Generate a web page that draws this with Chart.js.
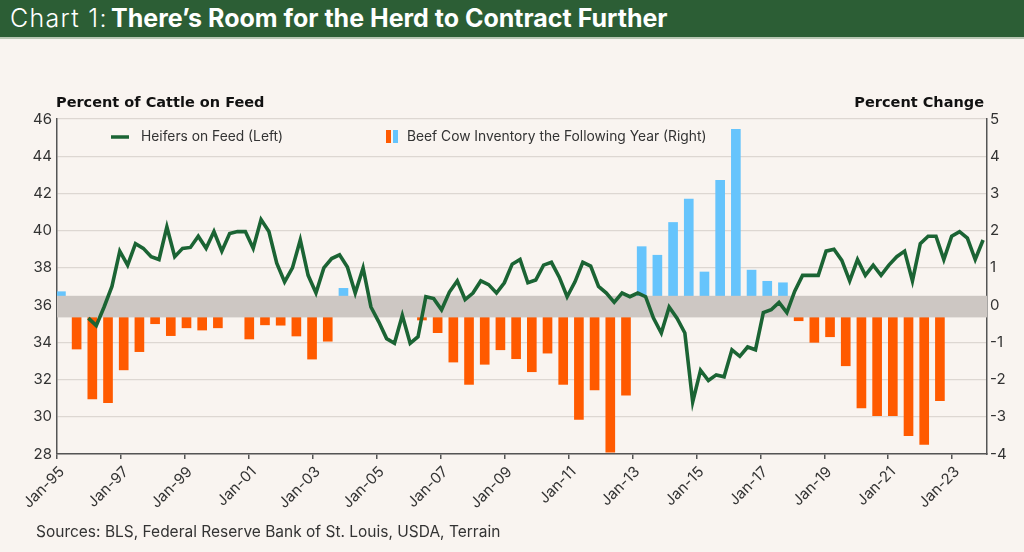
<!DOCTYPE html>
<html>
<head>
<meta charset="utf-8">
<title>Chart 1</title>
<script src="https://cdn.jsdelivr.net/npm/chart.js@4.4.1/dist/chart.umd.min.js"></script>
<style>
  html, body { margin: 0; padding: 0; }
  body {
    width: 1024px; height: 552px; position: relative; overflow: hidden;
    background: #f9f4f0;
    font-family: Inter, 'Liberation Sans', Arial, sans-serif;
  }
  #chart { position: absolute; left: 0; top: 0; }
  #banner {
    position: absolute; left: 0; top: 0; width: 1024px; height: 37px;
    box-sizing: content-box; padding-left: 10px;
    background: #2c5e35; color: #fff;
    border-bottom: 2px solid #b9c7b4;
    font-size: 25px; line-height: 37px;
    white-space: nowrap;
  }
  #banner .lead { font-weight: 300; display: inline-block; width: 101px; letter-spacing: 1.3px; }
  #banner b { font-weight: 700; }
  #sources { position: absolute; left: 36px; top: 522px; font-size: 15.5px; color: #333; }
</style>
</head>
<body>
<canvas id="chart" width="1024" height="552"></canvas>
<div id="banner"><span class="lead">Chart 1:</span><b>There’s Room for the Herd to Contract Further</b></div>
<div id="sources">Sources: BLS, Federal Reserve Bank of St. Louis, USDA, Terrain</div>
<script>
// x axis labels (every other January)
const xTickLabels = ['Jan-95', 'Jan-97', 'Jan-99', 'Jan-01', 'Jan-03', 'Jan-05', 'Jan-07', 'Jan-09',
  'Jan-11', 'Jan-13', 'Jan-15', 'Jan-17', 'Jan-19', 'Jan-21', 'Jan-23'];

// Heifers on feed, percent of cattle on feed (left axis), quarterly from early 1996
const heifersOnFeed = [
  35.3, 34.9, 35.9, 37.0, 38.9, 38.15, 39.3, 39.05, 38.6, 38.45,
  40.2, 38.6, 39.05, 39.1, 39.7, 39.05, 39.95, 38.9, 39.85, 39.95,
  39.95, 39.05, 40.6, 39.95, 38.25, 37.25, 38.0, 39.5, 37.6, 36.65,
  38.0, 38.5, 38.7, 38.05, 36.65, 38.0, 35.9, 35.1, 34.2, 33.95,
  35.45, 33.95, 34.3, 36.45, 36.35, 35.75, 36.7, 37.3, 36.3, 36.65,
  37.3, 37.1, 36.65, 37.2, 38.2, 38.45, 37.2, 37.35, 38.15, 38.3,
  37.5, 36.45, 37.25, 38.3, 38.1, 37.0, 36.65, 36.15, 36.65, 36.45,
  36.65, 36.45, 35.3, 34.5, 35.9, 35.3, 34.5, 30.8, 32.5, 31.95,
  32.25, 32.15, 33.6, 33.25, 33.75, 33.6, 35.6, 35.75, 36.15, 35.6,
  36.75, 37.6, 37.6, 37.6, 38.9, 39.0, 38.4, 37.3, 38.45, 37.6,
  38.15, 37.6, 38.15, 38.6, 38.9, 37.3, 39.3, 39.7, 39.7, 38.45,
  39.7, 39.95, 39.6, 38.45, 39.5
];

// Beef cow inventory the following year, percent change (right axis), half-yearly
const beefCowChange = [
  0.36, -1.18, -2.52, -2.62, -1.74, -1.25, -0.50, -0.82, -0.61, -0.67,
  -0.61, -0.2, -0.91, -0.53, -0.54, -0.83, -1.45, -0.97, 0.45, 0.1,
  -0.1, -0.2, -0.1, -0.40, -0.74, -1.53, -2.13, -1.59, -1.20, -1.44,
  -1.79, -1.29, -2.13, -3.07, -2.28, -3.95, -2.42, 1.57, 1.34, 2.22,
  2.85, 0.89, 3.35, 4.72, 0.94, 0.64, 0.60, -0.42, -1.00, -0.85,
  -1.63, -2.76, -2.97, -2.97, -3.51, -3.74, -2.57
];

// grey zero band on the right axis
const zeroBand = [-0.33, 0.25];

const GREEN = '#1b6434';
const ORANGE = '#ff5a00';
const BLUE = '#66c4fc';
const INK = '#333333';
const AXIS = '#555555';
const TICK_FONT = { family: "Inter, 'Liberation Sans', Arial, sans-serif", size: 15 };

// band drawn over the bars but under the line
const bandPlugin = {
  id: 'zeroBand',
  beforeDatasetDraw(chart, args) {
    if (args.index !== 0) return;
    const { ctx, chartArea, scales } = chart;
    const yTop = scales.yR.getPixelForValue(zeroBand[1]);
    const yBottom = scales.yR.getPixelForValue(zeroBand[0]);
    ctx.save();
    ctx.fillStyle = '#cdc7c3';
    ctx.fillRect(chartArea.left, yTop, chartArea.right - chartArea.left, yBottom - yTop);
    ctx.restore();
  }
};

// axis titles and the legend inside the plot
const labelsPlugin = {
  id: 'labels',
  afterDraw(chart) {
    const { ctx, chartArea } = chart;
    const sets = chart.data.datasets;
    ctx.save();
    ctx.textBaseline = 'middle';
    ctx.fillStyle = '#111';
    ctx.font = "bold 14.5px 'DejaVu Sans', sans-serif";
    ctx.textAlign = 'left';
    ctx.fillText('Percent of Cattle on Feed', chartArea.left - 1, chartArea.top - 16);
    ctx.textAlign = 'right';
    ctx.fillText('Percent Change', chartArea.right - 3, chartArea.top - 16);

    const ly = chartArea.top + 18;
    ctx.textAlign = 'left';
    ctx.font = "13.8px Inter, 'Liberation Sans', Arial, sans-serif";
    ctx.strokeStyle = GREEN;
    ctx.lineWidth = 3.5;
    ctx.beginPath();
    ctx.moveTo(111, ly);
    ctx.lineTo(129, ly);
    ctx.stroke();
    ctx.fillStyle = INK;
    ctx.fillText(sets[0].label, 141, ly);

    ctx.fillStyle = ORANGE;
    ctx.fillRect(386, ly - 7, 5, 13);
    ctx.fillStyle = BLUE;
    ctx.fillRect(393, ly - 7, 5, 13);
    ctx.fillStyle = INK;
    ctx.fillText(sets[1].label, 407, ly);
    ctx.restore();
  }
};

const ctx = document.getElementById('chart').getContext('2d');

new Chart(ctx, {
  type: 'line',
  data: {
    datasets: [
      {
        type: 'line',
        label: 'Heifers on Feed (Left)',
        data: heifersOnFeed.map((v, k) => ({ x: k, y: v })),
        xAxisID: 'xi',
        yAxisID: 'yL',
        borderColor: GREEN,
        borderWidth: 3.6,
        pointRadius: 0,
        tension: 0,
        fill: false
      },
      {
        type: 'bar',
        label: 'Beef Cow Inventory the Following Year (Right)',
        // one bar every two quarters, starting half a step before the line's grid
        data: beefCowChange.map((v, j) => ({ x: 2 * j - 3.5, y: v })),
        xAxisID: 'xi',
        yAxisID: 'yR',
        backgroundColor: beefCowChange.map(v => (v < 0 ? ORANGE : BLUE)),
        barThickness: 9
      }
    ]
  },
  options: {
    responsive: false,
    animation: false,
    devicePixelRatio: 1,
    layout: { padding: { top: 119, left: 0, right: 0, bottom: 0 } },
    plugins: {
      legend: { display: false },
      tooltip: { enabled: false }
    },
    scales: {
      xi: {
        type: 'linear',
        display: false,
        min: -4,
        max: 114.5,
        offset: false
      },
      x: {
        type: 'linear',
        position: 'bottom',
        min: 1995,
        max: 2024.09,
        offset: false,
        afterBuildTicks: scale => {
          scale.ticks = xTickLabels.map((_, i) => ({ value: 1995 + 2 * i }));
        },
        afterFit: scale => { scale.height = 98; },
        ticks: {
          autoSkip: false,
          minRotation: 45,
          maxRotation: 45,
          padding: 4,
          labelOffset: 5,
          color: INK,
          font: TICK_FONT,
          callback: (value, index) => xTickLabels[index]
        },
        grid: { drawOnChartArea: false, drawTicks: true, tickLength: 5, color: AXIS, lineWidth: 1.5 },
        border: { color: AXIS, width: 1.5 }
      },
      yL: {
        position: 'left',
        min: 28,
        max: 46,
        afterFit: scale => { scale.width = 57; },
        ticks: { stepSize: 2, padding: 5, color: INK, font: TICK_FONT },
        grid: { color: '#ddd7d2', lineWidth: 1.3, drawTicks: false },
        border: { color: AXIS, width: 1.5 }
      },
      yR: {
        position: 'right',
        min: -4,
        max: 5,
        afterFit: scale => { scale.width = 37; },
        ticks: { stepSize: 1, padding: 3, color: INK, font: TICK_FONT },
        grid: { drawOnChartArea: false, drawTicks: false },
        border: { color: AXIS, width: 1.5 }
      }
    }
  },
  plugins: [bandPlugin, labelsPlugin]
});
</script>
</body>
</html>
